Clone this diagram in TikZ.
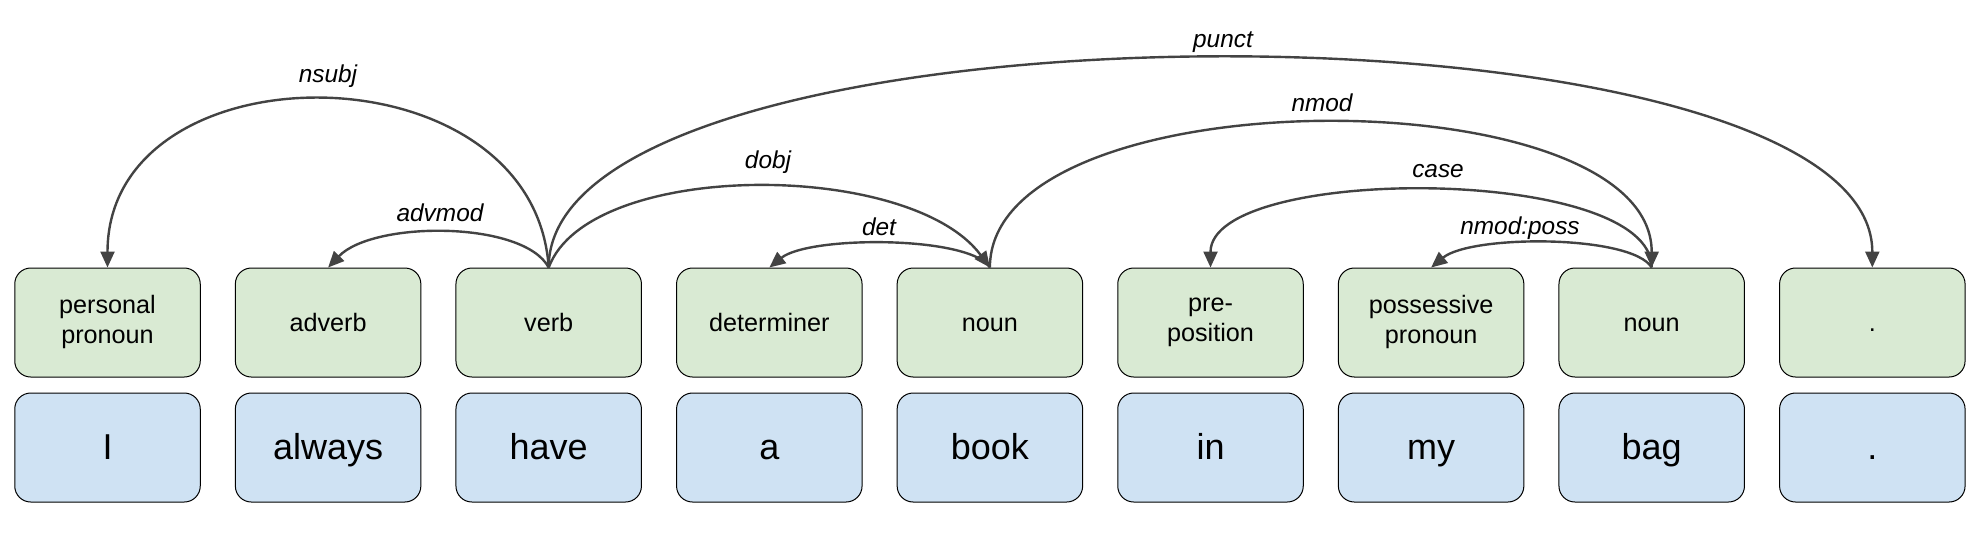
\documentclass[tikz,border=0pt]{standalone}
\usepackage{fontspec}
\setmainfont{Liberation Sans}
\usetikzlibrary{arrows.meta}
\definecolor{posfill}{HTML}{D9EAD3}
\definecolor{wordfill}{HTML}{CFE2F3}
\definecolor{edgec}{HTML}{434343}
\newcommand\bstrut{\rule[\dimexpr-0.3\baselineskip+1.7pt\relax]{0pt}{\baselineskip}}
\begin{document}
\begin{tikzpicture}[x=0.5pt,y=-0.5pt,
  box/.style={draw=black, line width=0.5pt, rounded corners=8pt,
    minimum width=92.75pt, minimum height=54.5pt, align=center, inner sep=0pt,
    execute at begin node=\bstrut},
  posbox/.style={box, fill=posfill, font=\fontsize{12.6}{15}\selectfont},
  wordbox/.style={box, fill=wordfill, font=\fontsize{18}{22}\selectfont},
  dep/.style={draw=edgec, line width=1.2pt, -{Triangle[length=8pt,width=7pt]}},
  deplabel/.style={font=\fontsize{12.2}{14}\selectfont\itshape, text=black, inner sep=0pt}]
\useasboundingbox (0,0) rectangle (1984,532);
% part-of-speech boxes
\node[posbox] (p0) at (107.5,322.5) {personal\\\bstrut pronoun};
\node[posbox] (p1) at (328.1,322.5) {adverb};
\node[posbox] (p2) at (548.7,322.5) {verb};
\node[posbox] (p3) at (769.3,322.5) {determiner};
\node[posbox] (p4) at (989.9,322.5) {noun};
\node[posbox] (p5) at (1210.5,322.5) {pre-\\\bstrut position};
\node[posbox] (p6) at (1431.1,322.5) {possessive\\\bstrut pronoun};
\node[posbox] (p7) at (1651.7,322.5) {noun};
\node[posbox] (p8) at (1872.3,322.5) {.};
% word boxes
\node[wordbox] (w0) at (107.5,447.5) {I};
\node[wordbox] (w1) at (328.1,447.5) {always};
\node[wordbox] (w2) at (548.7,447.5) {have};
\node[wordbox] (w3) at (769.3,447.5) {a};
\node[wordbox] (w4) at (989.9,447.5) {book};
\node[wordbox] (w5) at (1210.5,447.5) {in};
\node[wordbox] (w6) at (1431.1,447.5) {my};
\node[wordbox] (w7) at (1651.7,447.5) {bag};
\node[wordbox] (w8) at (1872.3,447.5) {.};
% dependency arcs
\draw[dep] (p2.north) .. controls +(-15,-224) and +(0,-224) .. (p0.north);
\draw[dep] (p2.north) .. controls +(-25,-47) and +(45,-47) .. (p1.north);
\draw[dep] (p2.north) .. controls +(40,-108) and +(-80,-108) .. (p4.north);
\draw[dep] (p4.north) .. controls +(-20,-32) and +(40,-32) .. (p3.north);
\draw[dep] (p2.north) .. controls +(0,-279) and +(0,-279) .. (p8.north);
\draw[dep] (p4.north) .. controls +(0,-193) and +(0,-193) .. (p7.north);
\draw[dep] (p7.north) .. controls +(0,-103) and +(0,-103) .. (p5.north);
\draw[dep] (p7.north) .. controls +(-20,-33) and +(40,-33) .. (p6.north);
% labels
\node[deplabel] (lnsubj) at (328,76) {nsubj};
\node[deplabel] (ladvmod) at (440,213) {advmod};
\node[deplabel] (ldobj) at (768,162) {dobj};
\node[deplabel] (ldet) at (879,227) {det};
\node[deplabel] (lpunct) at (1223,42) {punct};
\node[deplabel] (lnmod) at (1322,103) {nmod};
\node[deplabel] (lcase) at (1438,171) {case};
\node[deplabel] (lposs) at (1520,228) {nmod:poss};
\end{tikzpicture}
\end{document}
